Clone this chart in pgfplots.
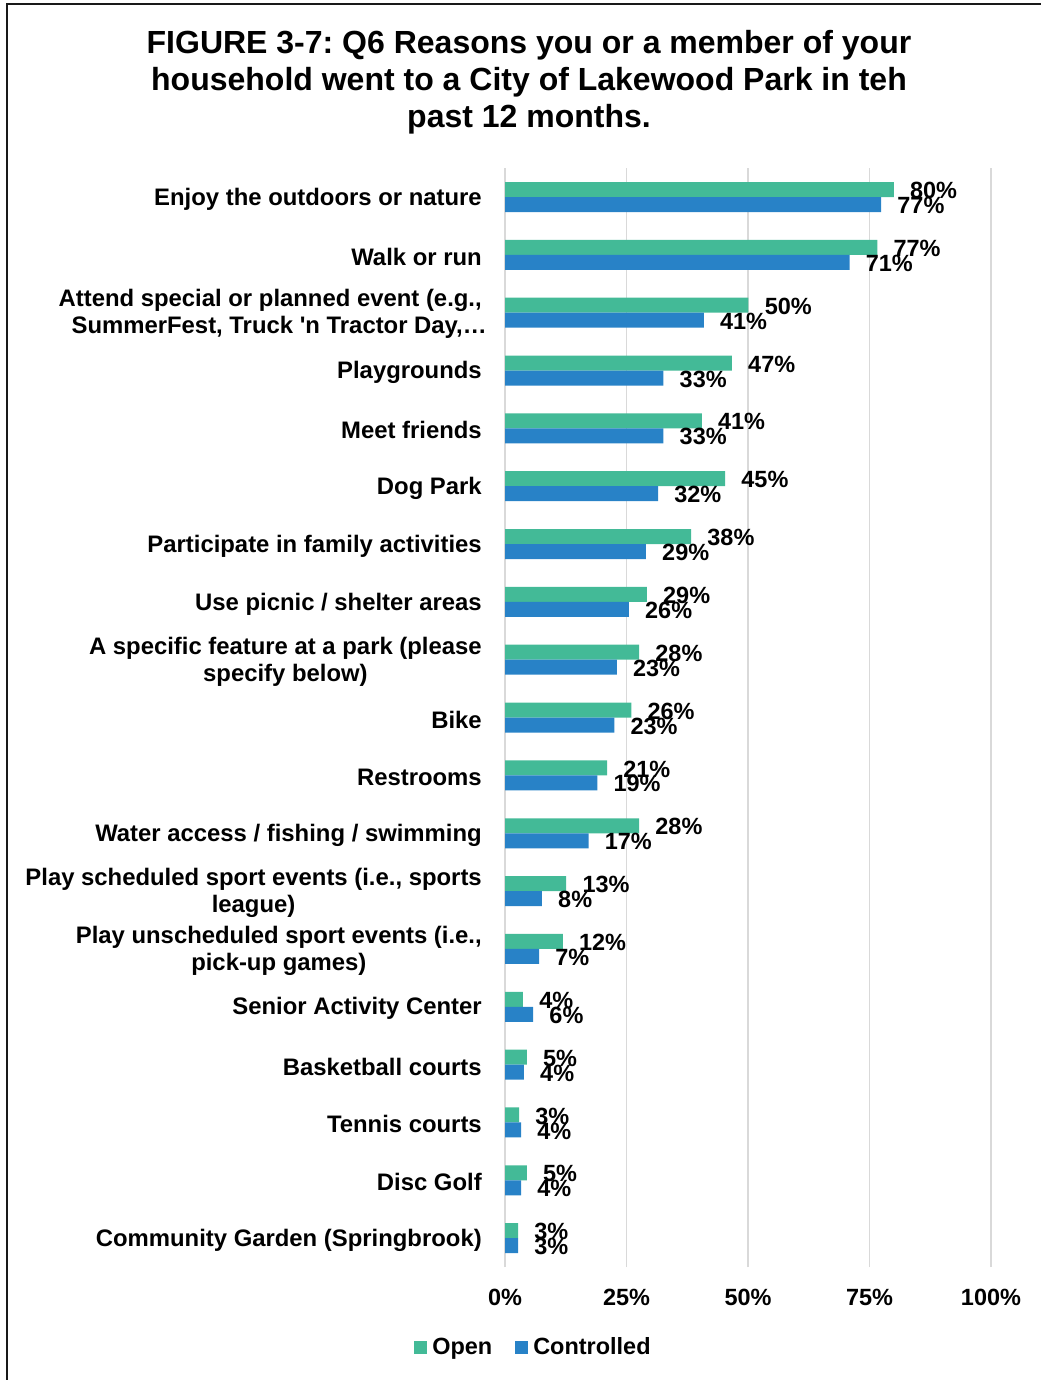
\documentclass[border=0pt]{standalone}
\usepackage{fontspec}
\setmainfont{Liberation Sans}[Ligatures=TeXOff]
\usepackage{pgfplots}
\pgfplotsset{compat=1.18}
\usepackage{pgfplotstable}
\definecolor{cOpen}{RGB}{67,186,151}
\definecolor{cCtrl}{RGB}{40,130,199}
\definecolor{cGrid}{RGB}{217,217,217}
\newcommand\lbl{\fontsize{17.6}{20.25}\selectfont\bfseries}
\newcommand\catlbl{\fontsize{17.9}{20.25}\selectfont\bfseries}
\pgfplotsset{/pgf/number format/assume math mode=true}
\frenchspacing

\pgfplotstableread{
y open ol ctrl cl
18 80.0 80 77.4 77
17 76.6 77 70.9 71
16 50.1 50 40.9 41
15 46.7 47 32.6 33
14 40.5 41 32.6 33
13 45.3 45 31.5 32
12 38.3 38 29.0 29
11 29.2 29 25.5 26
10 27.6 28 23.0 23
9 26.0 26 22.5 23
8 21.0 21 19.0 19
7 27.6 28 17.2 17
6 12.6 13 7.6 8
5 11.9 12 7.0 7
4 3.7 4 5.8 6
3 4.5 5 3.9 4
2 2.9 3 3.3 4
1 4.5 5 3.3 4
0 2.7 3 2.7 3
}\datatab

\begin{document}
\frenchspacing
\begin{tikzpicture}
\useasboundingbox (0,0) rectangle (780.75pt,-1035pt);
\draw[line width=1.5pt, color=black!90] (782pt,-3pt) -- (5.25pt,-3pt) -- (5.25pt,-1037pt);
\node[font=\fontsize{24}{27.75}\selectfont\bfseries, anchor=base, inner sep=0pt] at (396.75pt,-40.5pt) {FIGURE 3-7: Q6 Reasons you or a member of your};
\node[font=\fontsize{24}{27.75}\selectfont\bfseries, anchor=base, inner sep=0pt] at (396.75pt,-68.25pt) {household went to a City of Lakewood Park in teh};
\node[font=\fontsize{24}{27.75}\selectfont\bfseries, anchor=base, inner sep=0pt] at (396.75pt,-96pt) {past 12 months.};
\begin{axis}[
  at={(378.75pt,-126.075pt)}, anchor=north west,
  scale only axis, width=364.5pt, height=824.2pt,
  xbar, bar width=11.25pt,
  xmin=0, xmax=100, ymin=-0.5, ymax=18.5,
  xtick={0,25,50,75,100},
  xticklabels={0\%,25\%,50\%,75\%,100\%},
  xticklabel style={font=\lbl, anchor=base, inner sep=0pt, yshift=-28.9pt},
  ytick={0,...,18},
  yticklabels={Community Garden (Springbrook), Disc Golf, Tennis courts, Basketball courts, Senior Activity Center, {Play unscheduled sport events (i.e.,\\pick-up games)}, {Play scheduled sport events (i.e., sports\\league)}, Water access / fishing / swimming, Restrooms, Bike, {A specific feature at a park (please\\specify below)}, Use picnic / shelter areas, Participate in family activities, Dog Park, Meet friends, Playgrounds, {\begin{tabular}[c]{@{}r@{}}Attend special or planned event (e.g.,\\SummerFest, Truck 'n Tractor Day,…\kern-3.75pt\end{tabular}}, Walk or run, Enjoy the outdoors or nature},
  yticklabel style={font=\catlbl, align=center, anchor=east, inner sep=0pt, xshift=-17.25pt, yshift=-1.5pt},
  major tick length=0pt,
  axis line style={draw=none},
  xmajorgrids, grid style={cGrid, line width=1pt},
  clip=false,
  point meta=explicit,
  nodes near coords={\pgfmathprintnumber{\pgfplotspointmeta}\%},
  nodes near coords style={font=\lbl, anchor=west, inner sep=0pt, xshift=12pt, yshift=-0.75pt, text=black},
  legend columns=2,
  legend style={at={(-0.1872,-0.0728)}, anchor=west, draw=none, fill=none, inner sep=0pt, font=\lbl,
    nodes={inner sep=0pt},
    /tikz/every odd column/.append style={column sep=3.75pt},
    /tikz/every even column/.append style={column sep=17.25pt}},
  legend image code/.code={\draw[#1, draw=none, fill] (0pt,-4.875pt) rectangle (9.75pt,4.875pt);},
]
\addplot[fill=cOpen, draw=none, bar shift=5.625pt] table[x=open, y=y, meta=ol] {\datatab};
\addplot[fill=cCtrl, draw=none, bar shift=-5.625pt] table[x=ctrl, y=y, meta=cl] {\datatab};
\legend{Open, Controlled}
\end{axis}
\end{tikzpicture}
\end{document}
